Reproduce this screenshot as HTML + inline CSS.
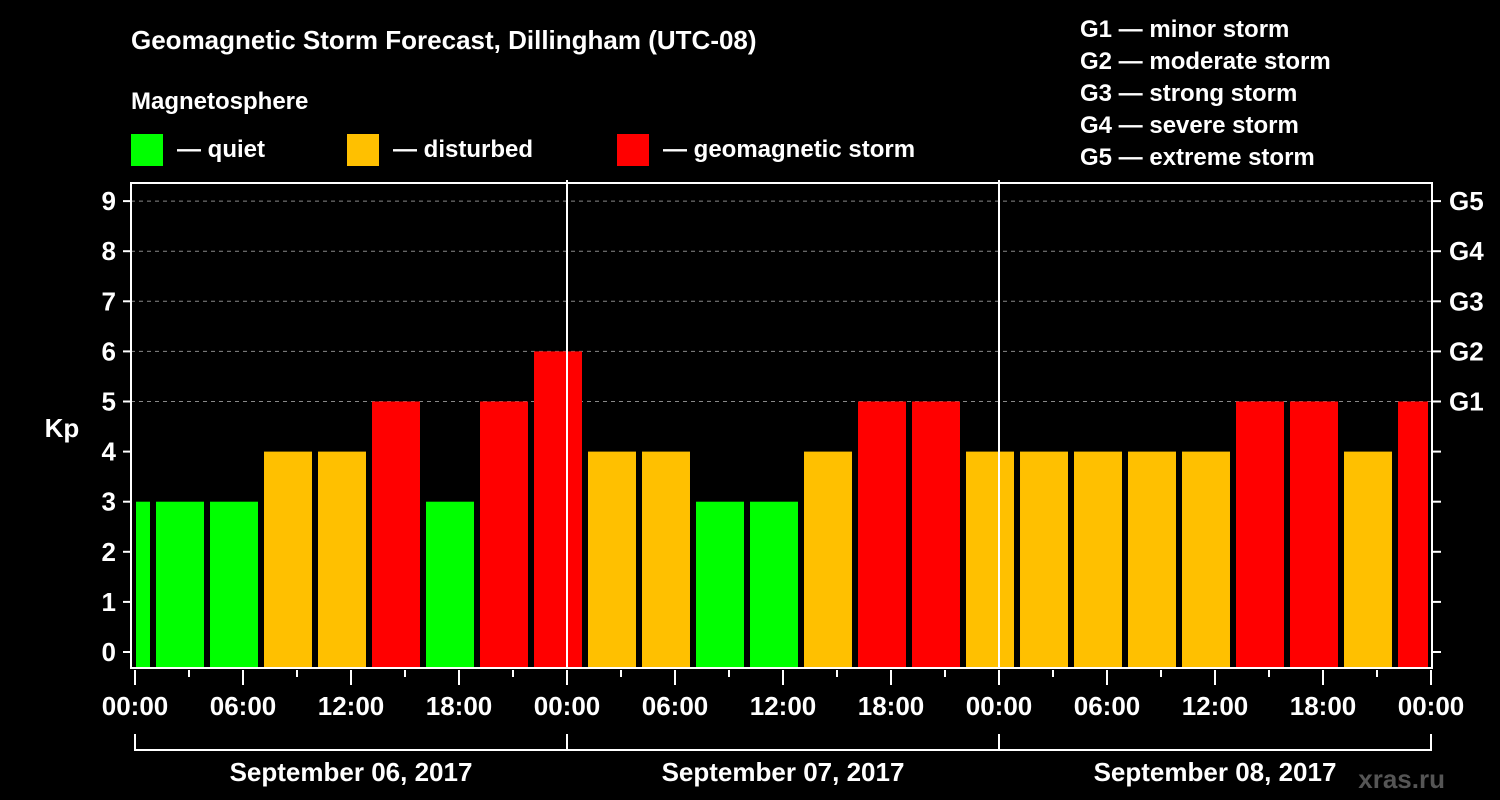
<!DOCTYPE html>
<html><head><meta charset="utf-8"><style>
html,body{margin:0;padding:0;background:#000;}
svg{display:block;font-family:"Liberation Sans",sans-serif;font-weight:bold;}
</style></head><body>
<svg id="chart" width="1500" height="800" viewBox="0 0 1500 800">
<rect x="0" y="0" width="1500" height="800" fill="#000"/>
<text x="131" y="49" fill="#fff" font-size="26">Geomagnetic Storm Forecast, Dillingham (UTC-08)</text>
<text x="131" y="109" fill="#fff" font-size="24">Magnetosphere</text>
<g><rect x="131" y="134" width="32" height="32" fill="#00ff00"/><text x="177" y="157" fill="#fff" font-size="24">— quiet</text></g>
<g><rect x="347" y="134" width="32" height="32" fill="#ffc000"/><text x="393" y="157" fill="#fff" font-size="24">— disturbed</text></g>
<g><rect x="617" y="134" width="32" height="32" fill="#ff0000"/><text x="663" y="157" fill="#fff" font-size="24">— geomagnetic storm</text></g>
<g fill="#fff" font-size="24">
<text x="1080" y="37">G1 — minor storm</text>
<text x="1080" y="69">G2 — moderate storm</text>
<text x="1080" y="101">G3 — strong storm</text>
<text x="1080" y="133">G4 — severe storm</text>
<text x="1080" y="165">G5 — extreme storm</text>
</g>
<text x="62" y="437" fill="#fff" font-size="26" text-anchor="middle">Kp</text>
<text x="1445" y="788" fill="#555" font-size="26" text-anchor="end">xras.ru</text>
<g id="grid"></g>
<g id="bars"></g>
<g id="axes"></g>
</svg>
<script>
const hours = [-0.5,2.5,5.5,8.5,11.5,14.5,17.5,20.5,23.5,26.5,29.5,32.5,35.5,38.5,41.5,44.5,47.5,50.5,53.5,56.5,59.5,62.5,65.5,68.5,71.5];
const kp = [3,3,3,4,4,5,3,5,6,4,4,3,3,4,5,5,4,4,4,4,4,5,5,4,5];
const yTicks = [0,1,2,3,4,5,6,7,8,9];
const gLabels = ["G1","G2","G3","G4","G5"];
const gLevels = [5,6,7,8,9];
const xTickLabels = ["00:00","06:00","12:00","18:00","00:00","06:00","12:00","18:00","00:00","06:00","12:00","18:00","00:00"];
const dayLabels = ["September 06, 2017","September 07, 2017","September 08, 2017"];

const NS="http://www.w3.org/2000/svg";
const X0=135, PXH=18, Y0=652, PXK=50.1, LEFT=131, RIGHT=1432, TOP=183, BOT=668;
const xs=h=>X0+h*PXH, ys=v=>Y0-v*PXK;
function mk(tag,attrs,parent,text){const e=document.createElementNS(NS,tag);for(const k in attrs)e.setAttribute(k,attrs[k]);if(text!==undefined)e.textContent=text;parent.appendChild(e);return e;}
const grid=document.getElementById('grid'),bars=document.getElementById('bars'),axes=document.getElementById('axes');

gLevels.forEach((v,i)=>{
  const l=mk('line',{x1:LEFT,x2:RIGHT,y1:ys(v),y2:ys(v),stroke:'#888','stroke-width':1,'stroke-dasharray':'4,4'},grid);
  
  
});
hours.forEach((h,i)=>{
  let x1=Math.max(xs(h-1.333),LEFT+5), x2=Math.min(xs(h+1.333),RIGHT-4);
  const c=kp[i]<=3?'#00ff00':(kp[i]==4?'#ffc000':'#ff0000');
  const r=mk('rect',{x:x1,y:ys(kp[i]),width:x2-x1,height:BOT-1-ys(kp[i]),fill:c},bars);
  
  
});
// day separators
[24,48].forEach(h=>{
  const l=mk('line',{x1:xs(h),x2:xs(h),y1:180,y2:BOT,stroke:'#fff','stroke-width':2},axes);
  
  
});
const fr=mk('rect',{x:LEFT,y:TOP,width:RIGHT-LEFT,height:BOT-TOP,fill:'none',stroke:'#fff','stroke-width':2},axes);


yTicks.forEach(v=>{
  mk('line',{x1:LEFT-8,x2:LEFT,y1:ys(v),y2:ys(v),stroke:'#fff','stroke-width':2},axes);
  mk('line',{x1:RIGHT,x2:RIGHT+9,y1:ys(v),y2:ys(v),stroke:'#fff','stroke-width':2},axes);
  const t=mk('text',{x:116,y:ys(v)+9,fill:'#fff','font-size':26,'text-anchor':'end'},axes,String(v));
  
  
});
gLevels.forEach((v,i)=>{
  const t=mk('text',{x:1449,y:ys(v)+9,fill:'#fff','font-size':26},axes,gLabels[i]);
  
  
});
for(let h=0;h<=72;h+=3){
  const long=h%6==0;
  mk('line',{x1:xs(h),x2:xs(h),y1:BOT+2,y2:long?685:677,stroke:'#fff','stroke-width':2},axes);
}
xTickLabels.forEach((s,i)=>{
  const t=mk('text',{x:xs(i*6),y:715,fill:'#fff','font-size':26,'text-anchor':'middle'},axes,s);
  
  
});
mk('line',{x1:xs(0),x2:xs(72),y1:750,y2:750,stroke:'#fff','stroke-width':2},axes);
for(let d=0;d<=3;d++) mk('line',{x1:xs(d*24),x2:xs(d*24),y1:734,y2:751,stroke:'#fff','stroke-width':2},axes);
dayLabels.forEach((s,i)=>{
  const t=mk('text',{x:xs(i*24+12),y:781,fill:'#fff','font-size':26,'text-anchor':'middle'},axes,s);
  
  
});
</script>
</body></html>
